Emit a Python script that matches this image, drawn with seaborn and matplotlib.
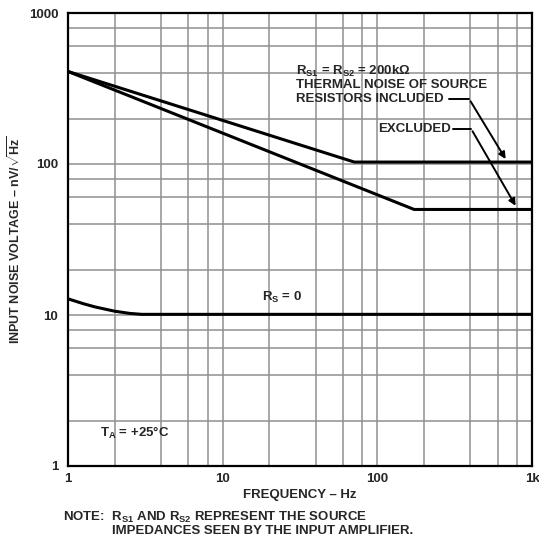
import numpy as np
import pandas as pd
import matplotlib
matplotlib.use("Agg")
import matplotlib.pyplot as plt
import matplotlib.ticker as ticker
import seaborn as sns

# values (frequency in Hz, noise in nV/sqrt(Hz))
freq_included = [1, 71, 1000]
noise_included = [410, 103, 103]

freq_excluded = [1, 173, 1000]
noise_excluded = [410, 50, 50]

freq_rs0 = [1, 1.25, 1.5, 2, 2.5, 3, 1000]
noise_rs0 = [12.8, 11.9, 11.3, 10.6, 10.25, 10.1, 10.1]

x_ticks = [1, 10, 100, 1000]
x_tick_labels = ["1", "10", "100", "1k"]
y_ticks = [1, 10, 100, 1000]
y_tick_labels = ["1", "10", "100", "1000"]

sns.set_style("white")
plt.rcParams["font.family"] = ["Liberation Sans", "DejaVu Sans"]
plt.rcParams["font.weight"] = "bold"
plt.rcParams["mathtext.fontset"] = "custom"
plt.rcParams["mathtext.rm"] = "Liberation Sans:bold"
plt.rcParams["mathtext.it"] = "Liberation Sans:bold"
plt.rcParams["mathtext.bf"] = "Liberation Sans:bold"

fig = plt.figure(figsize=(5.39, 5.41), dpi=100)
ax = fig.add_axes([68 / 539, 75 / 541, 464 / 539, 453 / 541])

df = pd.concat([
    pd.DataFrame({"f": freq_included, "v": noise_included, "curve": "included"}),
    pd.DataFrame({"f": freq_excluded, "v": noise_excluded, "curve": "excluded"}),
    pd.DataFrame({"f": freq_rs0, "v": noise_rs0, "curve": "rs0"}),
])
for name, grp in df.groupby("curve"):
    sns.lineplot(data=grp, x="f", y="v", ax=ax, color="black", lw=2.2,
                 estimator=None, sort=False, legend=False)

ax.set_xscale("log")
ax.set_yscale("log")
ax.set_xlim(1, 1000)
ax.set_ylim(1, 1000)

ax.xaxis.set_major_locator(ticker.FixedLocator(x_ticks))
ax.xaxis.set_major_formatter(ticker.FixedFormatter(x_tick_labels))
ax.yaxis.set_major_locator(ticker.FixedLocator(y_ticks))
ax.yaxis.set_major_formatter(ticker.FixedFormatter(y_tick_labels))
ax.xaxis.set_minor_locator(ticker.LogLocator(base=10, subs=[2, 4, 6, 8]))
ax.yaxis.set_minor_locator(ticker.LogLocator(base=10, subs=[2, 4, 6, 8]))
ax.xaxis.set_minor_formatter(ticker.NullFormatter())
ax.yaxis.set_minor_formatter(ticker.NullFormatter())

ax.grid(which="both", color="#8f8f8f", lw=1.1)
ax.set_axisbelow(True)
ax.tick_params(axis="y", which="both", length=0, labelsize=9.5, pad=7)
ax.tick_params(axis="x", which="both", length=0, labelsize=9.5, pad=5)
for s in ax.spines.values():
    s.set_color("black")
    s.set_linewidth(1.6)

ax.set_xlabel("FREQUENCY – Hz", fontsize=9.5, fontweight="bold", labelpad=3)
ax.set_ylabel(r"INPUT NOISE VOLTAGE – nV/$\sqrt{\mathrm{Hz}}$", fontsize=9,
              fontweight="bold", labelpad=4)

fs = 9.5
ax.text(30, 410, r"R$_{\mathrm{S1}}$ = R$_{\mathrm{S2}}$ = 200kΩ", fontsize=fs, va="center")
ax.text(30, 333, "THERMAL NOISE OF SOURCE", fontsize=fs, va="center")
ax.text(30, 270, "RESISTORS INCLUDED", fontsize=fs, va="center")
ax.text(101, 171, "EXCLUDED", fontsize=fs, va="center")
ax.text(18, 13.1, r"R$_{\mathrm{S}}$ = 0", fontsize=fs, va="center")
ax.text(1.6, 1.65, r"T$_{\mathrm{A}}$ = +25°C", fontsize=fs, va="center")

# leader lines with arrows
ax.plot([290, 392], [270, 270], color="black", lw=1.4)
ax.annotate("", xy=(690, 104), xytext=(392, 270),
            arrowprops=dict(arrowstyle="-|>", color="black", lw=1.4, mutation_scale=10))
ax.plot([310, 404], [171, 171], color="black", lw=1.4)
ax.annotate("", xy=(800, 51), xytext=(404, 171),
            arrowprops=dict(arrowstyle="-|>", color="black", lw=1.4, mutation_scale=10))

fig.text(63 / 539, 1 - 517 / 541, r"NOTE:  R$_{\mathrm{S1}}$ AND R$_{\mathrm{S2}}$ REPRESENT THE SOURCE",
         fontsize=fs, va="center")
fig.text(112 / 539, 1 - 531 / 541, "IMPEDANCES SEEN BY THE INPUT AMPLIFIER.",
         fontsize=fs, va="center")

fig.savefig("out.png", dpi=100, facecolor="white")
